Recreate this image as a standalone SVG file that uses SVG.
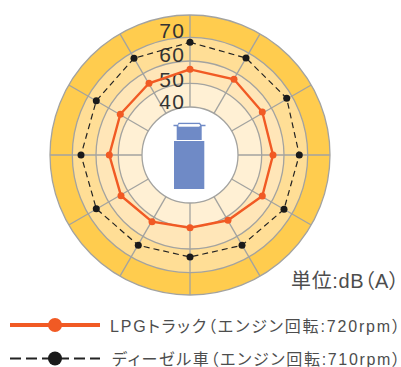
<svg xmlns="http://www.w3.org/2000/svg" width="401" height="367" viewBox="0 0 401 367">
<style>
.g{stroke:#a3a3a0;stroke-width:1.3}
.t{font-family:"Liberation Sans","Noto Sans CJK JP",sans-serif;fill:#4d4d4d;font-feature-settings:"palt"}
.s{font-family:"Liberation Sans",sans-serif;font-size:21px;fill:#333;text-anchor:end;letter-spacing:1.5px}
.or{fill:none;stroke:#f15a24;stroke-width:2.4}
.di{fill:none;stroke:#222;stroke-width:1.200;stroke-dasharray:6 4}
.od{fill:#f15a24}
.bd{fill:#1a1a1a}
.tr{fill:#6f8ac6}
</style>
<g id="chart">
<circle class="g" cx="190" cy="155" r="140" fill="#ffcc4e"/>
<circle class="g" cx="190" cy="155" r="117.7" fill="#ffde96"/>
<circle class="g" cx="190" cy="155" r="94" fill="#ffe6b8"/>
<circle class="g" cx="190" cy="155" r="71.7" fill="#fff0d4"/>
<g class="g" id="spokes">
<line x1="190" y1="107" x2="190" y2="15"/>
<line x1="214" y1="113.4" x2="260" y2="33.8"/>
<line x1="231.6" y1="131" x2="311.2" y2="85"/>
<line x1="238" y1="155" x2="330" y2="155"/>
<line x1="231.6" y1="179" x2="311.2" y2="225"/>
<line x1="214" y1="196.6" x2="260" y2="276.2"/>
<line x1="190" y1="203" x2="190" y2="295"/>
<line x1="166" y1="196.6" x2="120" y2="276.2"/>
<line x1="148.4" y1="179" x2="68.8" y2="225"/>
<line x1="142" y1="155" x2="50" y2="155"/>
<line x1="148.4" y1="131" x2="68.8" y2="85"/>
<line x1="166" y1="113.4" x2="120" y2="33.8"/>
</g>
<circle class="g" cx="190" cy="155" r="48" fill="#fff"/>
</g>
<g id="scale">
<text class="s" x="185.500" y="38">70</text>
<text class="s" x="185.500" y="62">60</text>
<text class="s" x="185.500" y="87">50</text>
<text class="s" x="185.500" y="109">40</text>
</g>
<g id="truck">
<rect class="tr" x="174" y="141" width="30.3" height="48"/>
<rect class="tr" x="176.700" y="126" width="25" height="14"/>
<path d="M173.500 125.500H178L179 123.500H199.500L201 125.500H205.500" fill="none" stroke="#6f8ac6" stroke-width="1.600"/>
<rect x="178.500" y="124.300" width="21" height="2.400" fill="#fff"/>
</g>
<g id="connectors">
<polygon class="di" points="190,42.300 246,58 286.700,98.300 299.300,155 284,209.300 242,245.300 190,257 138.300,245.300 96.300,208.700 81,155 96.300,100.700 134,58.300"/>
<polygon class="or" points="190,69.300 234,79.300 262.300,112 273,155 262.300,196 228,220.300 190,227.700 152,221.700 121,195.700 109.300,155 120.300,114.300 149,83.300"/>
</g>
<g id="diesel-points" class="bd">
<circle cx="190" cy="42.300" r="3.500"/><circle cx="246" cy="58" r="3.500"/><circle cx="286.700" cy="98.300" r="3.500"/><circle cx="299.300" cy="155" r="3.500"/><circle cx="284" cy="209.300" r="3.500"/><circle cx="242" cy="245.300" r="3.500"/><circle cx="190" cy="257" r="3.500"/><circle cx="138.300" cy="245.300" r="3.500"/><circle cx="96.300" cy="208.700" r="3.500"/><circle cx="81" cy="155" r="3.500"/><circle cx="96.300" cy="100.700" r="3.500"/><circle cx="134" cy="58.300" r="3.500"/>
</g>
<g id="lpg-points" class="od">
<circle cx="190" cy="69.300" r="3.500"/><circle cx="234" cy="79.300" r="3.500"/><circle cx="262.300" cy="112" r="3.500"/><circle cx="273" cy="155" r="3.500"/><circle cx="262.300" cy="196" r="3.500"/><circle cx="228" cy="220.300" r="3.500"/><circle cx="190" cy="227.700" r="3.500"/><circle cx="152" cy="221.700" r="3.500"/><circle cx="121" cy="195.700" r="3.500"/><circle cx="109.300" cy="155" r="3.500"/><circle cx="120.300" cy="114.300" r="3.500"/><circle cx="149" cy="83.300" r="3.500"/>
</g>
<g id="unit"><text class="t" x="291" y="288" font-size="20" textLength="108" lengthAdjust="spacing">単位:dB（A）</text></g>
<g id="legend-lpg">
<line x1="10" y1="325" x2="100" y2="325" stroke="#f15a24" stroke-width="4"/>
<circle class="od" cx="55" cy="325" r="7"/>
<text class="t" x="110" y="331.500" font-size="16" textLength="290" lengthAdjust="spacing">LPGトラック（エンジン回転:720rpm）</text>
</g>
<g id="legend-diesel">
<line x1="10" y1="358.500" x2="100" y2="358.500" stroke="#222" stroke-width="2.200" stroke-dasharray="11 5"/>
<circle class="bd" cx="55" cy="358.500" r="7"/>
<text class="t" x="112" y="365" font-size="16" textLength="288" lengthAdjust="spacing">ディーゼル車（エンジン回転:710rpm）</text>
</g>
</svg>
